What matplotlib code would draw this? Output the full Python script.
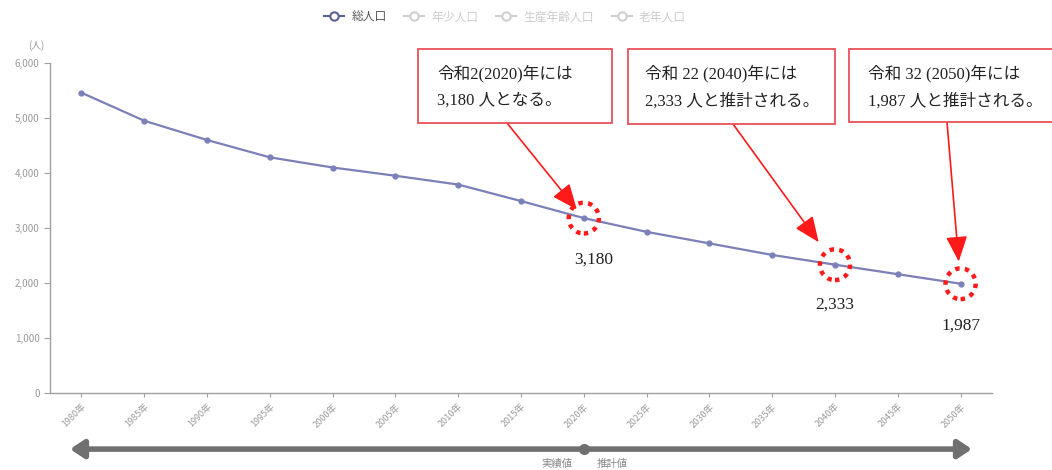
import matplotlib
matplotlib.use("Agg")
import matplotlib.pyplot as plt
from matplotlib.lines import Line2D
from matplotlib.patches import Ellipse, Rectangle

plt.rcParams['font.family'] = ['Noto Sans CJK JP', 'DejaVu Sans']

years = [1980, 1985, 1990, 1995, 2000, 2005, 2010, 2015, 2020, 2025,
         2030, 2035, 2040, 2045, 2050]
categories = [f"{y}年" for y in years]
total_pop = [5460, 4950, 4600, 4285, 4100, 3950, 3790, 3490, 3180, 2930,
             2720, 2510, 2333, 2160, 1987]
legend_labels = ["総人口", "年少人口", "生産年齢人口", "老年人口"]
y_ticks = [0, 1000, 2000, 3000, 4000, 5000, 6000]
highlight_years = [2020, 2040, 2050]
box_texts = [("令和2(2020)年には", "3,180 人となる。"),
             ("令和 22 (2040)年には", "2,333 人と推計される。"),
             ("令和 32 (2050)年には", "1,987 人と推計される。")]
phase_labels = ["実績値", "推計値"]

W, H = 1052, 470
fig = plt.figure(figsize=(W / 100, H / 100), dpi=100)
ax = fig.add_axes([50 / W, 77 / H, 942 / W, 330 / H])

line_color = '#7b80b8'
x = list(range(len(years)))
ax.plot(x, total_pop, color=line_color, lw=1.6, marker='o', ms=3.5,
        mfc=line_color, mec=line_color, zorder=3)

ax.set_xlim(-0.5, len(years) - 0.5)
ax.set_ylim(0, 6000)
ax.set_yticks(y_ticks)
ax.set_yticklabels([f"{v:,}" for v in y_ticks])
ax.set_xticks(x)
ax.set_xticklabels(categories, rotation=45, ha='right', rotation_mode='anchor')
for s in ['top', 'right']:
    ax.spines[s].set_visible(False)
for s in ['left', 'bottom']:
    ax.spines[s].set_color('#a0a0a0')
    ax.spines[s].set_linewidth(1.0)
ax.tick_params(axis='y', colors='#a0a0a0', labelcolor='#9a9a9a', labelsize=7, length=4)
ax.tick_params(axis='x', colors='#a0a0a0', labelcolor='#9a9a9a', labelsize=6.5, length=3)

fig.text(36 / W, 1 - 46 / H, "(人)", color='#9a9a9a', fontsize=7, ha='center', va='center')

# highlight circles and value labels
red = '#ff1a1a'
for yr in highlight_years:
    i = years.index(yr)
    v = total_pop[i]
    ax.add_patch(Ellipse((i, v), width=0.48, height=560, fill=False,
                         ec=red, lw=3.2, ls=(0, (1, 1.2)), zorder=4))

label_offsets = {2020: 760, 2040: 720, 2050: 760}
for yr in highlight_years:
    i = years.index(yr)
    v = total_pop[i]
    ax.text(i + 0.15 if yr == 2020 else i, v - label_offsets[yr], f"{v:,}",
            ha='center', va='center', fontsize=12.5,
            family=['Liberation Serif', 'Noto Sans CJK JP'], color='#222222')

# annotation boxes
boxes = [(418, 49, 194, 74), (628, 49, 207, 75), (849, 49, 210, 73)]
text_x = [437, 645, 868]
arrow_start = [(507, 123), (733, 124), (947, 122)]
shrink_pts = [8, 20, 16]
for (bx, by, bw, bh), (l1, l2), tx, (ax0, ay0), yr, sb in zip(
        boxes, box_texts, text_x, arrow_start, highlight_years, shrink_pts):
    fig.patches.append(Rectangle((bx / W, 1 - (by + bh) / H), bw / W, bh / H,
                                 transform=fig.transFigure, fill=True, fc='white',
                                 ec='#e8505b', lw=1.3, zorder=5))
    fig.text(tx / W, 1 - 74 / H, l1, fontsize=12, va='center', ha='left',
             family=['Liberation Serif', 'Noto Sans CJK JP'], color='#222222', zorder=6)
    fig.text(tx / W, 1 - 101 / H, l2, fontsize=12, va='center', ha='left',
             family=['Liberation Serif', 'Noto Sans CJK JP'], color='#222222', zorder=6)
    i = years.index(yr)
    ax.annotate("", xy=(i, total_pop[i]), xycoords='data',
                xytext=(ax0, H - ay0), textcoords='figure pixels',
                arrowprops=dict(arrowstyle='-|>,head_length=1.3,head_width=0.55',
                                color=red, lw=1.2, shrinkA=0, shrinkB=sb,
                                mutation_scale=12), zorder=6)

# legend
handles = []
for k, lab in enumerate(legend_labels):
    c = '#5b6190' if k == 0 else '#cfcfcf'
    handles.append(Line2D([0], [0], color=c, lw=1.5, marker='o', ms=6,
                          mfc='white', mec=c, mew=1.5))
leg = fig.legend(handles, legend_labels, loc='center', ncol=4,
                 bbox_to_anchor=(505 / W, 1 - 17 / H), frameon=False,
                 fontsize=8.5, handlelength=1.7, columnspacing=1.5, handletextpad=0.6)
for k, t in enumerate(leg.get_texts()):
    t.set_color('#555555' if k == 0 else '#cccccc')

# bottom arrow: actual vs. projected
xt = ax.get_xaxis_transform()
ay = -0.17
ax.annotate("", xy=(-0.18, ay), xycoords=xt, xytext=(14.18, ay), textcoords=xt,
            arrowprops=dict(arrowstyle='<|-|>,head_length=0.9,head_width=0.6',
                            color='#707070', lw=4, shrinkA=0, shrinkB=0,
                            mutation_scale=9), annotation_clip=False)
split = years.index(2020)
ax.plot([split], [ay], marker='o', ms=7, color='#707070', transform=xt, clip_on=False)
ax.text(split - 0.42, ay - 0.045, phase_labels[0], transform=xt, ha='center', va='center',
        fontsize=7.5, color='#888888')
ax.text(split + 0.45, ay - 0.045, phase_labels[1], transform=xt, ha='center', va='center',
        fontsize=7.5, color='#888888')

fig.savefig("out.png", dpi=100)
